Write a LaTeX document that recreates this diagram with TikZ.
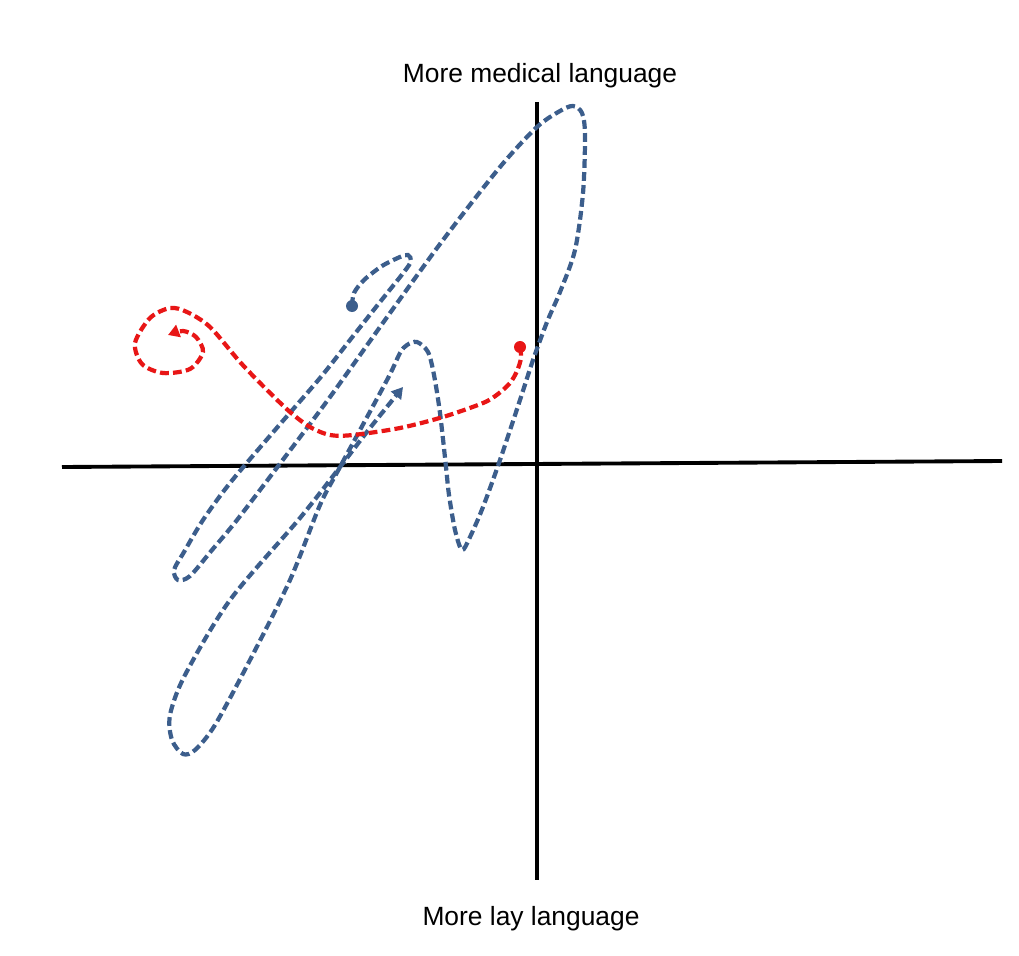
\documentclass[tikz,border=0pt]{standalone}
\usepackage{fontspec}
\setmainfont{Liberation Sans}
\usetikzlibrary{arrows.meta}
\definecolor{trailblue}{RGB}{60,94,140}
\definecolor{trailred}{RGB}{232,22,22}

\begin{document}
\begin{tikzpicture}[x=0.01cm, y=-0.01cm,
  font=\fontsize{7.5pt}{9pt}\selectfont,
  axis/.style={line width=1.1pt, black},
  trail/.style={line width=1.2pt, dash pattern=on 2.5pt off 1.2pt,
                -{Triangle[length=3.2pt, width=3.6pt]}},
  dot/.style={circle, inner sep=0pt, minimum size=0.12cm}]
\useasboundingbox (0,0) rectangle (1019,955);
\coordinate (xl) at (62,467);
\coordinate (xr) at (1002,461);
\coordinate (yt) at (537,102);
\coordinate (yb) at (537,880);
\draw[axis] (xl) -- (xr);
\draw[axis] (yt) -- (yb);
\node (medical) at (540,76) {More medical language};
\node (lay) at (531,919) {More lay language};
\node[dot, fill=trailblue] (bstart) at (352,306) {};
\node[dot, fill=trailred] (rstart) at (520,347) {};
\draw[trail, trailblue] plot[smooth] coordinates {(bstart.center)
  (354,293) (364,280) (382,266) (400,257) (408,255) (411,261) (404,272)
  (380,302) (350,340) (320,378) (275,430) (230,483) (203,520) (184,552)
  (174,570) (178,580) (190,576) (212,550) (237,520) (285,457) (330,397)
  (390,313) (443,240) (500,167) (537,127) (560,111) (573,106) (582,113)
  (585,135) (583,193) (575,250) (560,292) (547,322) (533,360) (520,400)
  (500,460) (483,507) (470,537) (462,550) (455,530) (449,495) (446,467)
  (440,413) (434,375) (428,352) (417,342) (407,345) (400,353) (387,380)
  (340,467) (320,505) (290,580) (250,660) (215,725) (195,750) (183,754)
  (172,740) (170,715) (185,675) (230,600) (300,518) (340,467) (370,428)
  (403,387)};
\draw[trail, trailred] plot[smooth] coordinates {(rstart.center)
  (521,358) (517,371) (510,383) (498,394) (483,403) (443,417) (400,428)
  (353,435) (330,435) (310,427) (290,412) (265,388) (240,362) (210,327)
  (187,312) (170,308) (150,318) (135,343) (142,364) (163,373) (190,369)
  (203,352) (196,337) (183,331) (168,335)};
\end{tikzpicture}
\end{document}
